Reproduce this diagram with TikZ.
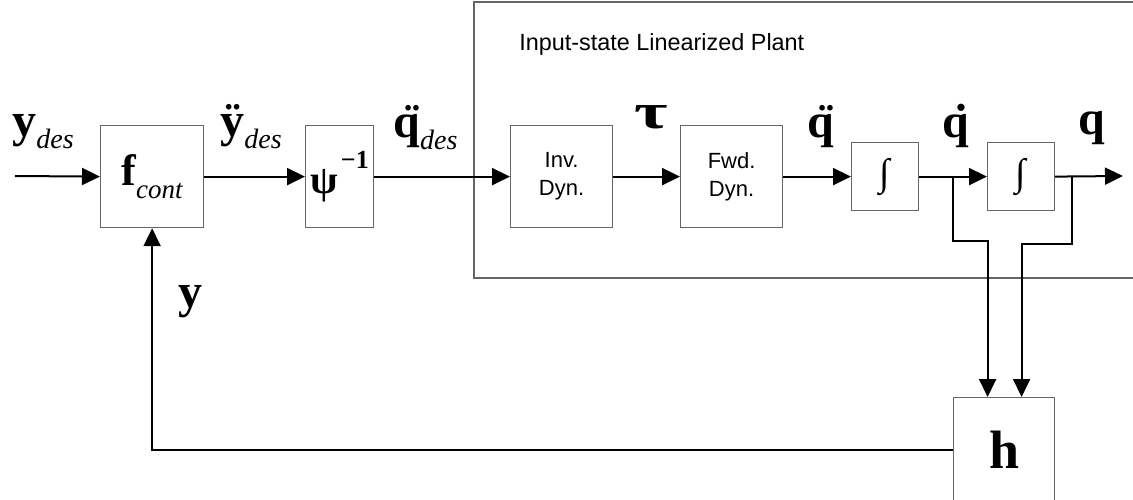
\documentclass[tikz,border=0pt]{standalone}
\usepackage{fontspec}
\setmainfont{Liberation Serif}
\newfontfamily\sansf{Liberation Sans}
\usetikzlibrary{arrows.meta}
\newcommand{\fs}[1]{\fontsize{#1}{#1}\selectfont}
\newcommand{\ddotq}{\ooalign{q\cr\hidewidth\"{}\hidewidth\cr}}
\newcommand{\dotq}{\ooalign{q\cr\hidewidth\.{}\hidewidth\cr}}
\begin{document}
\begin{tikzpicture}[x=0.5pt,y=-0.5pt,
  blk/.style={draw=black!60, line width=0.6pt, inner sep=0pt, anchor=north west},
  sig/.style={draw=black, line width=1pt, -{Triangle[length=9pt,width=8.5pt]}},
  lbl/.style={inner sep=0pt, anchor=base west},
  sanstxt/.style={font=\sansf\fontsize{11}{14}\selectfont, align=center}]
\useasboundingbox (0,0) rectangle (1133,499);
% plant frame
\draw[black!60, line width=0.6pt] (1135,2) -- (474,2) -- (474,278) -- (1135,278);
\node[lbl, font=\sansf\fontsize{11.7}{14}\selectfont] (plant) at (519,50) {Input-state Linearized Plant};
% blocks
\node[blk, minimum width=51.5pt, minimum height=51pt] (f) at (100,125)
  {{\fs{22}\bfseries f}\raisebox{-6.5pt}{\fs{13.5}\itshape cont}};
\node[blk, minimum width=34pt, minimum height=51pt] (psi) at (305,125)
  {{\fs{20}\bfseries ψ}\kern1.5pt\raisebox{12.5pt}{\fs{13}\bfseries −1}};
\node[blk, sanstxt, minimum width=51pt, minimum height=51pt] (inv) at (510,125) {Inv.\\Dyn.};
\node[blk, sanstxt, minimum width=51pt, minimum height=51pt] (fwd) at (680,125) {Fwd.\\Dyn.};
\node[blk, minimum width=33.5pt, minimum height=34pt] (i1) at (851,142) {\fs{19}∫};
\node[blk, minimum width=33.5pt, minimum height=34pt] (i2) at (987,142) {\fs{19}∫};
\node[blk, minimum width=50.5pt, minimum height=52pt] (h) at (953,397) {\fs{27}\bfseries h};
% coordinates
\coordinate (in) at (15,176);
\coordinate (out) at (1123,176);
\coordinate (b1) at (953,176);
\coordinate (b2) at (1072,176);
% forward path
\draw[sig] (in) -- (f.west);
\draw[sig] (f.east) -- (psi.west);
\draw[sig] (psi.east) -- (inv.west);
\draw[sig] (inv.east) -- (fwd.west);
\draw[sig] (fwd.east) -- (i1.west);
\draw[sig] (i1.east) -- (i2.west);
\draw[sig] (i2.east) -- (out);
% branches to h
\draw[sig] (b1) -- ++(0,65) -| ([xshift=-8.25pt]h.north);
\draw[sig] (b2) -- ++(0,68) -| ([xshift=8.75pt]h.north);
% feedback
\draw[sig] (h.west) -| (f.south);
% labels
\node[lbl] (lydes) at (12,136) {{\fs{24}\bfseries y}\raisebox{-6pt}{\fs{14}\itshape des}};
\node[lbl] (lyddes) at (220,136) {{\fs{24}\bfseries ÿ}\raisebox{-6pt}{\fs{14}\itshape des}};
\node[lbl] (lqddes) at (393,137) {{\fs{24}\bfseries \ddotq}\raisebox{-6pt}{\fs{14}\itshape des}};
\node[lbl] (ltau) at (634,128) {\scalebox{1.45}[1]{\fs{25}\bfseries τ}};
\node[lbl] (lqdd) at (807,137) {\fs{24}\bfseries \ddotq};
\node[lbl] (lqd) at (942,137) {\fs{24}\bfseries \dotq};
\node[lbl] (lq) at (1078,134) {\fs{24}\bfseries q};
\node[lbl] (ly) at (178,307) {\fs{24}\bfseries y};
\end{tikzpicture}
\end{document}
